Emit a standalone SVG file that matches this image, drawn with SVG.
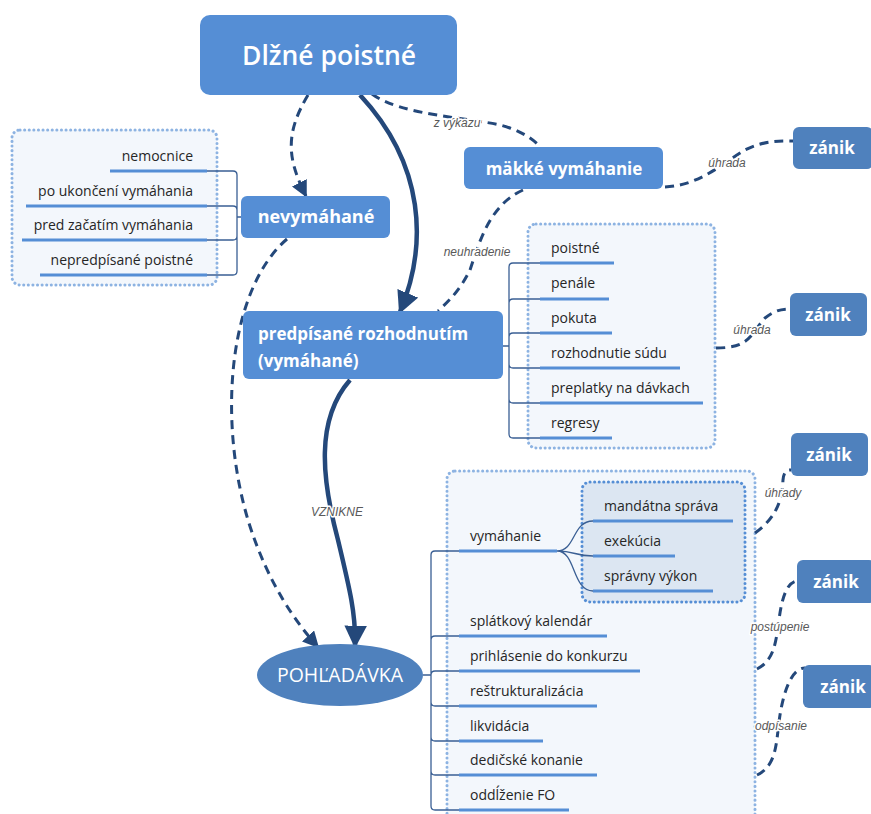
<svg xmlns="http://www.w3.org/2000/svg" width="871" height="814" viewBox="0 0 871 814">
<style>
.node{fill:#558ed5}
.dark{fill:#4f81bd}
.nt{font-family:"Open Sans","Noto Sans",sans-serif;font-weight:700;fill:#fff}
.it{font-family:"Open Sans","Noto Sans",sans-serif;font-size:14px;fill:#262626}
.ul{stroke:#558ed5;stroke-width:3;fill:none}
.br{stroke:#3a5f94;stroke-width:1.3;fill:none}
.grp{fill:#f3f7fc;stroke:#8db3e2;stroke-width:3;stroke-dasharray:0.1 4.5;stroke-linecap:round}
.grp2{fill:#dce6f2;stroke:#558ed5;stroke-width:3;stroke-dasharray:0.1 4.5;stroke-linecap:round}
.dash{stroke:#24487a;stroke-width:3;fill:none;stroke-dasharray:9 6}
.solid{stroke:#24487a;stroke-width:4.5;fill:none}
.lb{font-family:"Liberation Sans",Arial,sans-serif;font-style:italic;font-size:12px;fill:#595959;stroke:#fff;stroke-width:3;paint-order:stroke;stroke-linejoin:round}
</style>
<defs>
<marker id="ab" viewBox="0 0 10 10" refX="9" refY="5" markerWidth="5" markerHeight="5" orient="auto" markerUnits="strokeWidth"><path d="M0,0 L10,5 L0,10 z" fill="#24487a"/></marker>
<marker id="ad" viewBox="0 0 10 10" refX="9" refY="5" markerWidth="5.5" markerHeight="5.5" orient="auto" markerUnits="strokeWidth"><path d="M0,0 L10,5 L0,10 z" fill="#24487a"/></marker>
</defs>

<!-- group containers -->
<rect class="grp" x="12" y="130" width="205" height="155" rx="8"/>
<rect class="grp" x="528" y="224" width="187" height="224" rx="8"/>
<rect class="grp" x="447" y="471" width="308" height="360" rx="8"/>
<rect class="grp2" x="582" y="482" width="163" height="120" rx="8"/>

<g id="connectors">
<path class="dash" d="M308,95 C284,135 288,160 306,196" marker-end="url(#ad)"/>
<path class="solid" d="M360,95 C425,165 428,245 400,312" marker-end="url(#ab)"/>
<path class="dash" d="M372,94 C400,115 470,118 500,125 C520,130 535,140 540,147"/>
<path class="dash" d="M523,190 C490,205 480,240 470,270 C460,290 450,300 438,311"/>
<path class="dash" d="M665,187 C700,185 720,165 745,150 C765,140 780,141 793,141"/>
<path class="dash" d="M716,348 C750,348 750,335 765,318 C775,310 782,309 790,309"/>
<path class="dash" d="M755,533 C780,515 782,495 783,480 C784,470 788,470 791,470"/>
<path class="dash" d="M757,669 C775,660 776,640 779,620 C782,595 788,582 797,581"/>
<path class="dash" d="M757,775 C778,765 776,740 780,715 C784,690 792,668 805,668"/>
<path class="solid" d="M350,380 C315,420 322,480 338,540 C350,590 356,615 355,646" marker-end="url(#ab)"/>
<path class="dash" d="M287,239 C228,290 218,420 248,520 C268,585 298,625 318,647" marker-end="url(#ad)"/>
<text class="lb" x="457" y="127" text-anchor="middle">z výkazu</text>
<text class="lb" x="477" y="256" text-anchor="middle">neuhradenie</text>
<text class="lb" x="727" y="167" text-anchor="middle">úhrada</text>
<text class="lb" x="752" y="334" text-anchor="middle">úhrada</text>
<text class="lb" x="783" y="497" text-anchor="middle">úhrady</text>
<text class="lb" x="780" y="631" text-anchor="middle">postúpenie</text>
<text class="lb" x="781" y="730" text-anchor="middle">odpísanie</text>
<text class="lb" x="337" y="516" text-anchor="middle">VZNIKNE</text>
<!-- brackets -->
<path class="br" d="M207,171 H233 Q237,171 237,175 V271 Q237,275 233,275 H207 M207,206 H233 Q237,206 237,210 M207,240 H233 Q237,240 237,236 M237,217 H242"/>
<path class="br" d="M540,263 H513 Q509,263 509,267 V434 Q509,438 513,438 H540 M540,299 H513 Q509,299 509,303 M540,333 H513 Q509,333 509,337 M540,368 H513 Q509,368 509,364 M540,403 H513 Q509,403 509,399 M503,346 H509"/>
<path class="br" d="M459,551 H435 Q431,551 431,555 V806 Q431,810 435,810 H459 M459,636 H435 Q431,636 431,640 M459,671 H435 Q431,671 431,675 M459,706 H435 Q431,706 431,702 M459,741 H435 Q431,741 431,737 M459,775 H435 Q431,775 431,771 M423,675 H431"/>
<path class="br" d="M557,551 C576,551 572,521 593,521 M557,551 C575,551 575,556 593,556 M557,551 C576,551 572,591 593,591"/>
</g>

<g id="dlzne"><rect class="node" x="200" y="15" width="257" height="80" rx="10"/><text class="nt" x="329" y="65" font-size="26.5" style="font-weight:600" text-anchor="middle">Dlžné poistné</text></g>
<g id="nevymahane"><rect class="node" x="241" y="196" width="149" height="42" rx="6"/><text class="nt" x="316" y="223" font-size="18" text-anchor="middle">nevymáhané</text></g>
<g id="makke"><rect class="node" x="464" y="147" width="199" height="42" rx="6"/><text class="nt" x="564" y="175" font-size="17" text-anchor="middle">mäkké vymáhanie</text></g>
<g id="predpisane"><rect class="node" x="243" y="311" width="260" height="68" rx="6"/><text class="nt" x="258" y="340" font-size="17">predpísané rozhodnutím</text><text class="nt" x="258" y="367" font-size="17">(vymáhané)</text></g>
<g id="pohladavka"><ellipse class="dark" cx="340" cy="675" rx="83" ry="31"/><text class="nt" x="340" y="682" font-size="19.5" style="font-weight:400" text-anchor="middle">POHĽADÁVKA</text></g>
<g id="zanik1"><rect class="dark" x="793" y="127" width="80" height="42" rx="6"/><text class="nt" x="832" y="154" font-size="17" text-anchor="middle">zánik</text></g>
<g id="zanik2"><rect class="dark" x="790" y="293" width="77" height="43" rx="6"/><text class="nt" x="828" y="321" font-size="17" text-anchor="middle">zánik</text></g>
<g id="zanik3"><rect class="dark" x="791" y="433" width="77" height="43" rx="6"/><text class="nt" x="829" y="461" font-size="17" text-anchor="middle">zánik</text></g>
<g id="zanik4"><rect class="dark" x="797" y="560" width="78" height="43" rx="6"/><text class="nt" x="836" y="588" font-size="17" text-anchor="middle">zánik</text></g>
<g id="zanik5"><rect class="dark" x="803" y="665" width="72" height="43" rx="6"/><text class="nt" x="843" y="693" font-size="17" text-anchor="middle">zánik</text></g>

<g id="left-items">
<text class="it" x="193" y="161" text-anchor="end">nemocnice</text><path class="ul" d="M110,171 H207"/>
<text class="it" x="193" y="196" text-anchor="end">po ukončení vymáhania</text><path class="ul" d="M26,206 H207"/>
<text class="it" x="193" y="230" text-anchor="end">pred začatím vymáhania</text><path class="ul" d="M22,240 H207"/>
<text class="it" x="193" y="265" text-anchor="end">nepredpísané poistné</text><path class="ul" d="M40,275 H207"/>
</g>
<g id="mid-items">
<text class="it" x="551" y="253">poistné</text><path class="ul" d="M540,263 H614"/>
<text class="it" x="551" y="288">penále</text><path class="ul" d="M540,299 H609"/>
<text class="it" x="551" y="323">pokuta</text><path class="ul" d="M540,333 H612"/>
<text class="it" x="551" y="358">rozhodnutie súdu</text><path class="ul" d="M540,368 H680"/>
<text class="it" x="551" y="393">preplatky na dávkach</text><path class="ul" d="M540,403 H703"/>
<text class="it" x="551" y="428">regresy</text><path class="ul" d="M540,438 H612"/>
</g>
<g id="bottom-items">
<text class="it" x="470" y="541">vymáhanie</text><path class="ul" d="M459,551 H557"/>
<text class="it" x="604" y="511">mandátna správa</text><path class="ul" d="M593,521 H733"/>
<text class="it" x="604" y="546">exekúcia</text><path class="ul" d="M593,556 H675"/>
<text class="it" x="604" y="581">správny výkon</text><path class="ul" d="M593,591 H713"/>
<text class="it" x="470" y="626">splátkový kalendár</text><path class="ul" d="M459,636 H607"/>
<text class="it" x="470" y="661">prihlásenie do konkurzu</text><path class="ul" d="M459,671 H640"/>
<text class="it" x="470" y="696">reštrukturalizácia</text><path class="ul" d="M459,706 H597"/>
<text class="it" x="470" y="731">likvidácia</text><path class="ul" d="M459,741 H543"/>
<text class="it" x="470" y="765">dedičské konanie</text><path class="ul" d="M459,775 H597"/>
<text class="it" x="470" y="800">oddĺženie FO</text><path class="ul" d="M459,810 H569"/>
</g>
</svg>
